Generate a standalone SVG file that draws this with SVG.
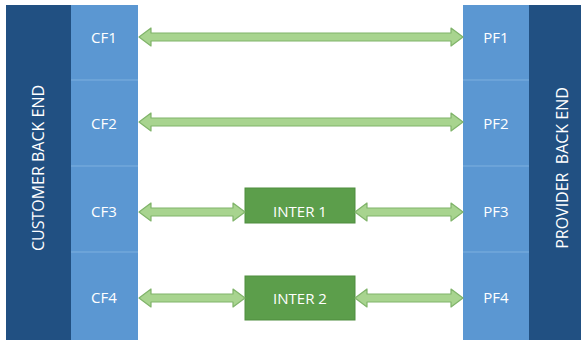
<svg xmlns="http://www.w3.org/2000/svg" width="581" height="341" viewBox="0 0 581 341">
<style>
.dark{fill:#215082}
.light{fill:#5b97d2}
.div{stroke:#7fb0df;stroke-width:1}
.lbl{font-family:"Open Sans","Liberation Sans",sans-serif;font-size:15px;fill:#ffffff;text-anchor:middle;dominant-baseline:central}
.side{font-family:"Open Sans","Liberation Sans",sans-serif;font-size:16px;fill:#ffffff;text-anchor:middle;dominant-baseline:central}
.box{fill:#5c9e4b;stroke:#4f8d3f;stroke-width:1}
.arr{fill:#a8d48f;stroke:#80b46a;stroke-width:1.2;stroke-linejoin:round}
</style>
<rect width="581" height="341" fill="#ffffff"/>
<g id="customer-back-end">
<rect class="dark" x="6" y="5" width="65" height="335"/>
<text class="side" transform="translate(38,168) rotate(-90)">CUSTOMER BACK END</text>
</g>
<g id="provider-back-end">
<rect class="dark" x="529" y="5" width="52" height="335"/>
<text class="side" transform="translate(562,168) rotate(-90)" xml:space="preserve">PROVIDER  BACK END</text>
</g>
<g id="cf1"><rect class="light" x="71" y="5" width="67" height="75"/><text class="lbl" x="104" y="37">CF1</text></g>
<g id="cf2"><rect class="light" x="71" y="80" width="67" height="86"/><text class="lbl" x="104" y="123">CF2</text></g>
<g id="cf3"><rect class="light" x="71" y="166" width="67" height="86"/><text class="lbl" x="104" y="211">CF3</text></g>
<g id="cf4"><rect class="light" x="71" y="252" width="67" height="88"/><text class="lbl" x="104" y="297">CF4</text></g>
<g id="pf1"><rect class="light" x="463" y="5" width="66" height="75"/><text class="lbl" x="496" y="37">PF1</text></g>
<g id="pf2"><rect class="light" x="463" y="80" width="66" height="86"/><text class="lbl" x="496" y="123">PF2</text></g>
<g id="pf3"><rect class="light" x="463" y="166" width="66" height="86"/><text class="lbl" x="496" y="211">PF3</text></g>
<g id="pf4"><rect class="light" x="463" y="252" width="66" height="88"/><text class="lbl" x="496" y="297">PF4</text></g>
<g id="dividers">
<line class="div" x1="71" y1="80" x2="138" y2="80"/>
<line class="div" x1="71" y1="166" x2="138" y2="166"/>
<line class="div" x1="71" y1="252" x2="138" y2="252"/>
<line class="div" x1="463" y1="80" x2="529" y2="80"/>
<line class="div" x1="463" y1="166" x2="529" y2="166"/>
<line class="div" x1="463" y1="252" x2="529" y2="252"/>
</g>
<g id="inter1"><rect class="box" x="245" y="188" width="110" height="35"/><text class="lbl" x="300" y="211">INTER 1</text></g>
<g id="inter2"><rect class="box" x="245" y="276" width="110" height="44"/><text class="lbl" x="300" y="298">INTER 2</text></g>
<g id="connectors">
<path class="arr" d="M139,37 L151,28 L151,33 L451,33 L451,28 L463,37 L451,46 L451,41 L151,41 L151,46 Z"/>
<path class="arr" d="M139,122 L151,113 L151,118 L451,118 L451,113 L463,122 L451,131 L451,126 L151,126 L151,131 Z"/>
<path class="arr" d="M139,212 L151,203 L151,208 L233,208 L233,203 L245,212 L233,221 L233,216 L151,216 L151,221 Z"/>
<path class="arr" d="M355,212 L367,203 L367,208 L451,208 L451,203 L463,212 L451,221 L451,216 L367,216 L367,221 Z"/>
<path class="arr" d="M139,298 L151,289 L151,294 L233,294 L233,289 L245,298 L233,307 L233,302 L151,302 L151,307 Z"/>
<path class="arr" d="M355,298 L367,289 L367,294 L451,294 L451,289 L463,298 L451,307 L451,302 L367,302 L367,307 Z"/>
</g>
</svg>
